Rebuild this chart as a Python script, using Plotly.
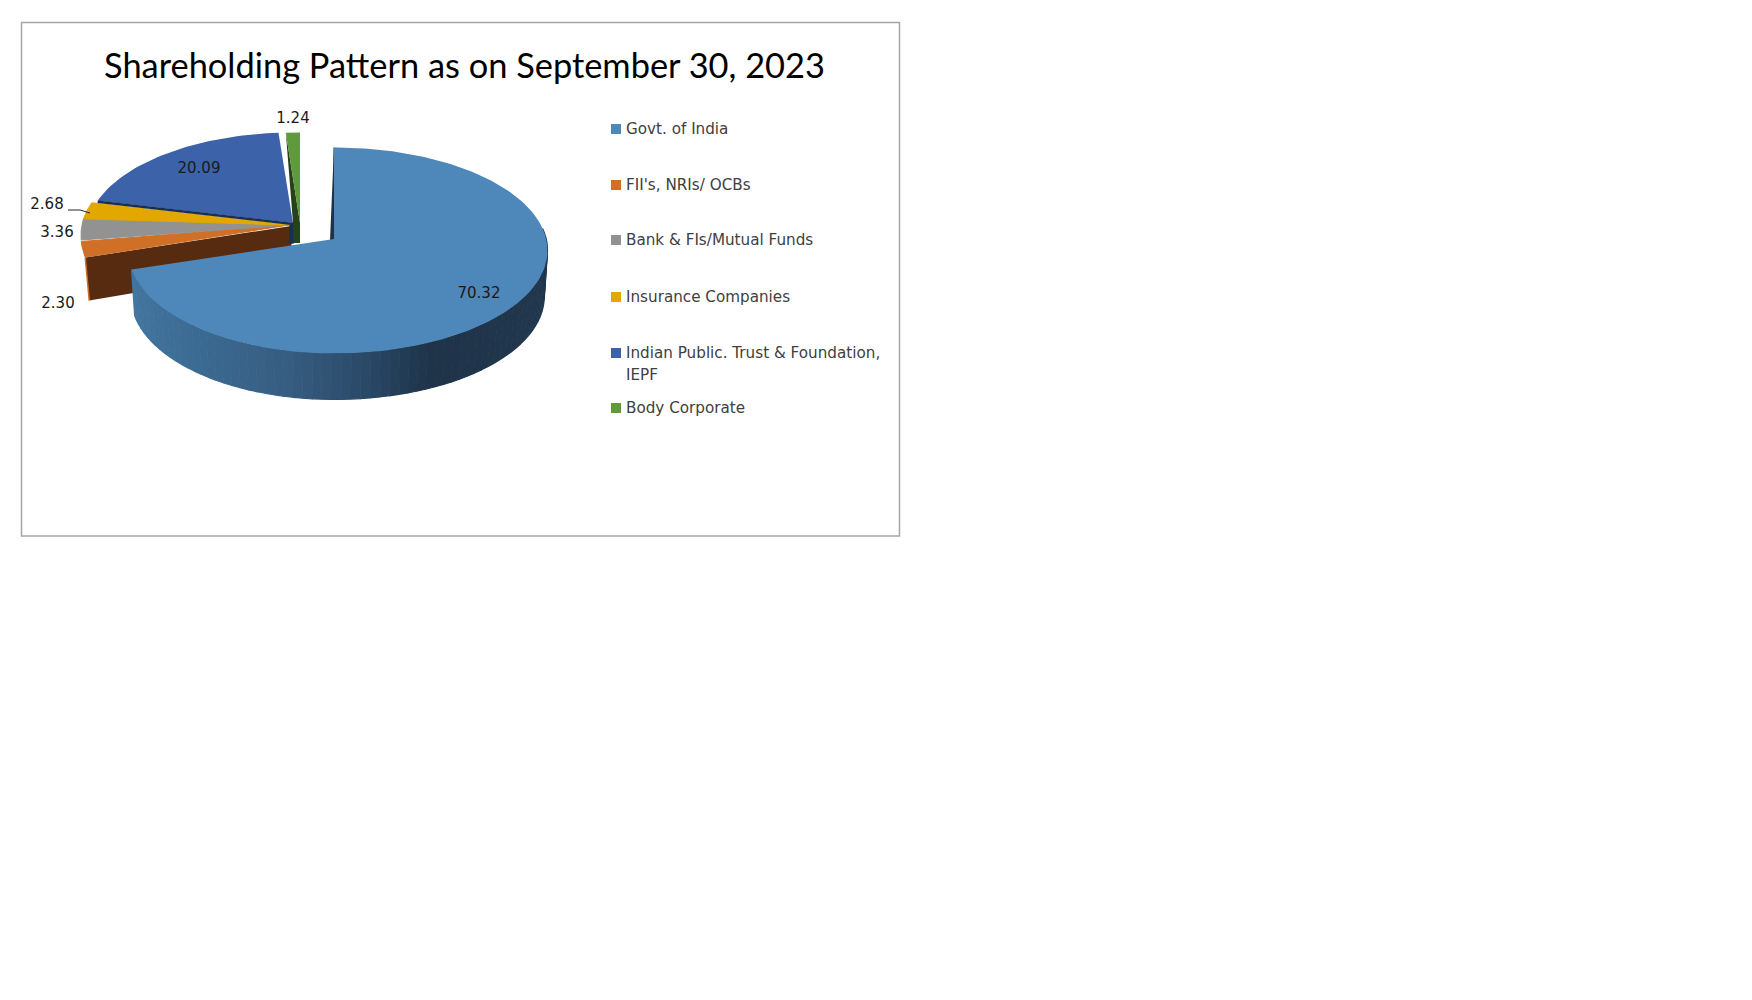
import numpy as np
import plotly.graph_objects as go

title = "Shareholding Pattern as on September 30, 2023"
categories = ["Govt. of India", "FII's, NRIs/ OCBs", "Bank & FIs/Mutual Funds",
              "Insurance Companies", "Indian Public. Trust & Foundation,<br>IEPF", "Body Corporate"]
values = [70.32, 2.30, 3.36, 2.68, 20.09, 1.24]
colors = ["#4e87b9", "#d06f26", "#929292", "#e2a800", "#3c62aa", "#5f9a3c"]

# page pixels, the body has a default 8px margin
label_x = [479, 58, 57, 47, 199, 293]
label_y = [294, 304, 233, 205, 169, 119]
legend_y = [129, 185, 240, 297, 353, 408]

# apex x, apex y, rx right, rx left, ry, how far the apex sits above the ellipse centre
geom = [
    (334, 239, 213.5, 206, 103, 0.111),
    (289, 225, 208, 208, 110, 0.095),
    (289, 225, 208, 208, 104, 0.095),
    (289, 225, 208, 208, 100, 0.095),
    (293, 223, 206, 206, 100, 0.095),
    (300, 223, 201, 201, 100, 0.095),
]
DEPTH = 46

wall_x = [130, 200, 290, 370, 430, 550]
wall_r = [68, 59, 55, 42, 31, 34]
wall_g = [118, 106, 93, 72, 52, 56]
wall_b = [160, 146, 128, 102, 73, 78]

fig = go.Figure()


def point(g, deg):
    a = np.radians(deg)
    dx, dy = np.sin(a), -np.cos(a)
    e = g[5]
    s = e * dy + np.sqrt(e * e * dy * dy + 1 - e * e)
    rx = np.where(dx < 0, g[3], g[2])
    return g[0] + rx * s * dx, g[1] + g[4] * s * dy


def poly(xs, ys, color, line=None, width=0):
    fig.add_trace(go.Scatter(
        x=list(xs), y=list(ys), mode="lines", fill="toself", fillcolor=color,
        line=dict(color=line or color, width=width), hoverinfo="skip", showlegend=False,
    ))


edges = np.cumsum([0] + values) / sum(values) * 360

# walls of the pulled out slices, behind everything else
g = geom[1]
ox, oy = point(g, edges[1])
poly([g[0] + 2, ox, ox + 4, 292], [g[1] + 1, oy, oy + 43, 266], "#562b0f")
fig.add_trace(go.Scatter(x=[ox, ox + 4], y=[oy, oy + 43], mode="lines",
                         line=dict(color="#d06f26", width=1.5), hoverinfo="skip", showlegend=False))

g = geom[4]
poly([g[0], g[0], g[0] - 3, g[0] - 3], [g[1], g[1] + 20, g[1] + 20, g[1] + 2], "#1a2f56",
     line="#1a2f56", width=1.5)

g = geom[5]
ox, oy = point(g, edges[5])
poly([ox, g[0], g[0], g[0] - 7, g[0] - 7], [oy, g[1], g[1] + 20, g[1] + 20, g[1]], "#26421a")

# tops of the small slices, the three thin ones overlap a little to hide seams
for i in range(1, 6):
    t = np.linspace(edges[i], edges[i + 1], 40)
    xs, ys = point(geom[i], t)
    poly(np.r_[geom[i][0], xs, geom[i][0]], np.r_[geom[i][1], ys, geom[i][1]], colors[i],
         width=1 if i < 4 else 0)

# dark lower edge of the blue slice
g = geom[4]
ox, oy = point(g, edges[4])
fig.add_trace(go.Scatter(x=[ox, g[0]], y=[oy + 1, g[1] + 1], mode="lines",
                         line=dict(color="#1a2f56", width=2.5), hoverinfo="skip", showlegend=False))

# side of the big slice, shaded in strips
g = geom[0]
ts = np.linspace(84, edges[1], 71)
for a, b in zip(ts[:-1], ts[1:]):
    x1, y1 = point(g, np.array([a, b]))
    x2 = g[0] + (x1 - g[0]) * 0.985
    y2 = y1 + DEPTH
    mid = x1.mean()
    c = "rgb(%d,%d,%d)" % (np.interp(mid, wall_x, wall_r), np.interp(mid, wall_x, wall_g), np.interp(mid, wall_x, wall_b))
    poly([x1[0], x1[1], x2[1], x2[0]], [y1[0], y1[1], y2[1], y2[0]], c, width=1.2)

# dark inner edge and top of the big slice
ox, oy = point(g, edges[0])
poly([ox, g[0], g[0] - 4], [oy, g[1], g[1] + 1], "#1f3347", line="#1f3347", width=1)
t = np.linspace(edges[0], edges[1], 200)
xs, ys = point(g, t)
poly(np.r_[g[0], xs, g[0]], np.r_[g[1], ys, g[1]], colors[0])

# leader line for the 2.68 label
fig.add_trace(go.Scatter(x=[68, 80, 90], y=[210, 210, 213], mode="lines",
                         line=dict(color="#262626", width=1), hoverinfo="skip", showlegend=False))

# value labels
fig.add_trace(go.Scatter(
    x=label_x, y=label_y, mode="text", text=["%.2f" % v for v in values],
    textposition="middle center", textfont=dict(family="DejaVu Sans", size=15, color="#1a1a1a"),
    hoverinfo="skip", showlegend=False,
))

# legend
fig.add_trace(go.Scatter(
    x=[616] * 6, y=legend_y, mode="markers",
    marker=dict(symbol="square", size=10, color=colors), hoverinfo="skip", showlegend=False,
))
for cat, y in zip(categories, legend_y):
    for n, part in enumerate(cat.split("<br>")):
        fig.add_annotation(x=624, y=y + n * 22, text=part, showarrow=False, xanchor="left", yanchor="middle",
                           font=dict(family="DejaVu Sans", size=15.2, color="#404040"))

fig.add_shape(type="rect", x0=21.5, y0=22.5, x1=899.5, y1=536, line=dict(color="#a6a6a6", width=1.5), layer="below")

fig.update_layout(
    width=1736,
    height=984,
    margin=dict(l=0, r=0, t=0, b=0),
    paper_bgcolor="white",
    plot_bgcolor="white",
    showlegend=False,
    title=dict(text=title, x=456.5 / 1736, xanchor="center", y=1 - 58 / 984, yanchor="middle",
               font=dict(family="Lato", size=34.4, color="black")),
    xaxis=dict(range=[8, 1744], visible=False, fixedrange=True),
    yaxis=dict(range=[992, 8], visible=False, fixedrange=True),
)
fig.write_html("out.html")
